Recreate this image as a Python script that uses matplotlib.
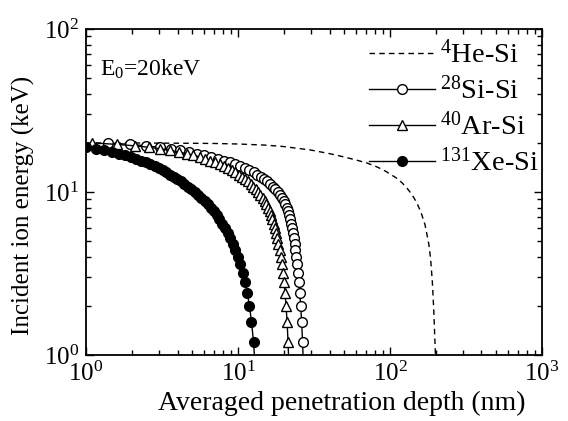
import matplotlib
matplotlib.use("Agg")
import matplotlib.pyplot as plt
from matplotlib.ticker import LogLocator, NullFormatter

# Fonts: Times-like serif everywhere, mathtext in the same face
plt.rcParams['font.family'] = ['Liberation Serif', 'DejaVu Serif']
plt.rcParams['mathtext.fontset'] = 'custom'
plt.rcParams['mathtext.rm'] = 'Liberation Serif'
plt.rcParams['mathtext.it'] = 'Liberation Serif:italic'
plt.rcParams['mathtext.default'] = 'regular'

# Incident ion energy (keV) shared by the three marker series
energy_kev = [20.0, 19.6, 19.2, 18.8, 18.4, 18.0, 17.6, 17.2, 16.8, 16.4,
              16.0, 15.6, 15.2, 14.8, 14.4, 14.0, 13.6, 13.2, 12.8, 12.4,
              12.0, 11.6, 11.2, 10.8, 10.4, 10.0, 9.6, 9.2, 8.8, 8.4,
              8.0, 7.6, 7.2, 6.8, 6.4, 6.0, 5.6, 5.2, 4.8, 4.4,
              4.0, 3.6, 3.2, 2.8, 2.4, 2.0, 1.6, 1.2, 0.8]

# Averaged penetration depth (nm) for each ion
si_depth = [1.40, 1.95, 2.50, 3.05, 3.60, 4.17, 4.76, 5.37, 6.01, 6.68,
            7.38, 8.11, 8.86, 9.62, 10.38, 11.14, 11.90, 12.65, 13.40, 14.14,
            14.87, 15.59, 16.29, 16.97, 17.63, 18.26, 18.86, 19.42, 19.94, 20.42,
            20.86, 21.27, 21.65, 22.00, 22.33, 22.64, 22.94, 23.24, 23.54, 23.84,
            24.15, 24.47, 24.80, 25.14, 25.49, 25.85, 26.22, 26.60, 26.99]

ar_depth = [1.09, 1.59, 2.09, 2.59, 3.09, 3.59, 4.09, 4.59, 5.09, 5.59,
            6.09, 6.59, 7.09, 7.59, 8.09, 8.59, 9.09, 9.59, 10.09, 10.59,
            11.09, 11.59, 12.09, 12.59, 13.09, 13.58, 14.06, 14.52, 14.96, 15.38,
            15.78, 16.16, 16.52, 16.86, 17.19, 17.51, 17.83, 18.15, 18.47, 18.79,
            19.11, 19.43, 19.75, 20.07, 20.39, 20.71, 21.03, 21.35, 21.67]

xe_depth = [0.52, 0.68, 0.84, 1.00, 1.16, 1.32, 1.48, 1.64, 1.80, 1.97,
            2.14, 2.31, 2.48, 2.65, 2.83, 3.01, 3.19, 3.38, 3.58, 3.78,
            3.99, 4.21, 4.44, 4.68, 4.93, 5.19, 5.46, 5.74, 6.03, 6.32,
            6.62, 6.92, 7.23, 7.55, 7.87, 8.20, 8.54, 8.89, 9.25, 9.62,
            9.99, 10.37, 10.75, 11.13, 11.51, 11.89, 12.27, 12.65, 13.03]

# He-Si is drawn as a dashed line only
he_depth = [1, 2, 3, 5, 7, 10, 15, 20, 30, 40, 50, 60, 70, 80, 90, 100,
            110, 120, 130, 140, 150, 160, 170, 180, 185, 190, 194, 197, 200, 203]
he_energy = [20.0, 20.0, 19.95, 19.9, 19.85, 19.7, 19.4, 19.0, 18.1, 17.2,
             16.4, 15.7, 15.1, 14.4, 13.7, 12.9, 12.2, 11.4, 10.5, 9.6,
             8.6, 7.5, 6.3, 4.8, 3.9, 2.8, 1.9, 1.3, 0.9, 0.6]

fig = plt.figure(figsize=(5.68, 4.21), dpi=100)
ax = fig.add_axes([0.1514, 0.1568, 0.8028, 0.7743])

ax.plot(he_depth, he_energy, 'k--', lw=1.0, dashes=(4, 3), label=r'$^{4}$He-Si')
ax.plot(si_depth, energy_kev, 'k-', lw=1.0, marker='o', ms=7, mfc='white',
        mec='black', mew=1.0, label=r'$^{28}$Si-Si')
ax.plot(ar_depth, energy_kev, 'k-', lw=1.0, marker='^', ms=7.5, mfc='white',
        mec='black', mew=1.0, label=r'$^{40}$Ar-Si')
ax.plot(xe_depth, energy_kev, 'k-', lw=1.0, marker='o', ms=7, mfc='black',
        mec='black', label=r'$^{131}$Xe-Si')

ax.set_xscale('log')
ax.set_yscale('log')
ax.set_xlim(1, 1000)
ax.set_ylim(1, 100)

ax.xaxis.set_major_locator(LogLocator(base=10, numticks=10))
ax.yaxis.set_major_locator(LogLocator(base=10, numticks=10))
ax.xaxis.set_minor_locator(LogLocator(base=10, subs=range(2, 10), numticks=20))
ax.yaxis.set_minor_locator(LogLocator(base=10, subs=range(2, 10), numticks=20))
ax.xaxis.set_minor_formatter(NullFormatter())
ax.yaxis.set_minor_formatter(NullFormatter())

ax.tick_params(which='both', direction='in', top=True, right=True, width=1.0)
ax.tick_params(which='major', length=6, labelsize=18, pad=5)
ax.tick_params(which='minor', length=3.5)
for sp in ax.spines.values():
    sp.set_linewidth(1.3)

ax.set_xlabel('Averaged penetration depth (nm)', fontsize=20, labelpad=3)
ax.set_ylabel('Incident ion energy (keV)', fontsize=18, labelpad=6)
ax.xaxis.label.set_x(0.56)
ax.yaxis.label.set_y(0.46)

ax.text(0.03, 0.875, r'E$_0$=20keV', transform=ax.transAxes, fontsize=17,
        ha='left', va='center')

ax.legend(loc='upper right', frameon=False, fontsize=20.5, handlelength=2.3,
          numpoints=1, labelspacing=0.27, handletextpad=0.2,
          borderaxespad=0.1, bbox_to_anchor=(1.025, 1.01))

fig.savefig('out.png', dpi=100)
